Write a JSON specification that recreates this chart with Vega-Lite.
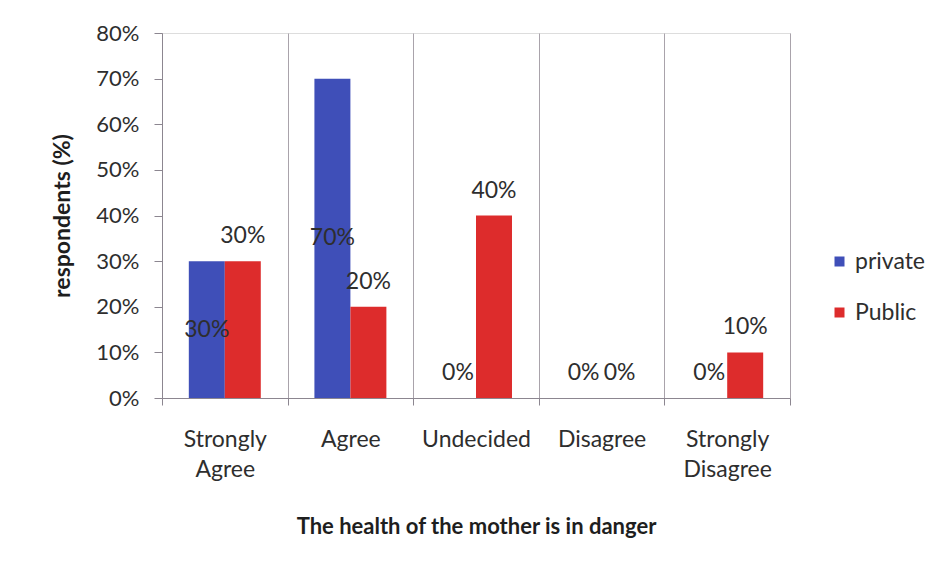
{
  "$schema": "https://vega.github.io/schema/vega-lite/v6.json",
  "width": 628,
  "height": 365,
  "autosize": {"type": "none"},
  "padding": {"left": 162, "top": 33, "right": 155, "bottom": 170},
  "background": "white",
  "data": {
    "values": [
      {"category": "Strongly Agree", "group": "private", "value": 0.3},
      {"category": "Strongly Agree", "group": "Public", "value": 0.3},
      {"category": "Agree", "group": "private", "value": 0.7},
      {"category": "Agree", "group": "Public", "value": 0.2},
      {"category": "Undecided", "group": "private", "value": 0.0},
      {"category": "Undecided", "group": "Public", "value": 0.4},
      {"category": "Disagree", "group": "private", "value": 0.0},
      {"category": "Disagree", "group": "Public", "value": 0.0},
      {"category": "Strongly Disagree", "group": "private", "value": 0.0},
      {"category": "Strongly Disagree", "group": "Public", "value": 0.1}
    ]
  },
  "encoding": {
    "x": {
      "field": "category",
      "type": "nominal",
      "sort": ["Strongly Agree", "Agree", "Undecided", "Disagree", "Strongly Disagree"],
      "scale": {"paddingInner": 0, "paddingOuter": 0},
      "axis": {
        "title": "The health of the mother is in danger",
        "labelAngle": 0,
        "labelExpr": "split(datum.label, ' ')",
        "labelLineHeight": 30,
        "labelFontSize": 23,
        "labelPadding": 23,
        "labelColor": "#2e2e2e",
        "labelFont": "Lato",
        "tickBand": "extent",
        "grid": true,
        "gridColor": "#a9a3ab",
        "domainColor": "#8c8690",
        "tickColor": "#8c8690",
        "tickSize": 7,
        "titleFont": "Lato",
        "titleFontSize": 22,
        "titleFontWeight": "bold",
        "titleColor": "#1e1e1e",
        "titlePadding": 35
      }
    },
    "xOffset": {
      "field": "group",
      "type": "nominal",
      "sort": ["private", "Public"],
      "scale": {"paddingInner": 0, "paddingOuter": 0.745}
    }
  },
  "layer": [
    {
      "mark": {"type": "bar"},
      "encoding": {
        "y": {
          "field": "value",
          "type": "quantitative",
          "scale": {"domain": [0, 0.8]},
          "axis": {
            "title": "respondents (%)",
            "values": [0, 0.1, 0.2, 0.3, 0.4, 0.5, 0.6, 0.7, 0.8],
            "format": ".0%",
            "grid": false,
            "labelFont": "Lato",
            "labelFontSize": 22,
            "labelColor": "#2e2e2e",
            "labelPadding": 15,
            "tickSize": 8,
            "tickColor": "#8c8690",
            "domainColor": "#8c8690",
            "titleFont": "Lato",
            "titleFontSize": 23,
            "titleFontWeight": "bold",
            "titleColor": "#1e1e1e",
            "titlePadding": 21
          }
        },
        "color": {
          "field": "group",
          "type": "nominal",
          "sort": ["private", "Public"],
          "scale": {"domain": ["private", "Public"], "range": ["#3f4fb8", "#dd2c2c"]},
          "legend": {
            "title": null,
            "orient": "none",
            "legendX": 666,
            "legendY": 217,
            "symbolType": "square",
            "symbolSize": 100,
            "symbolStrokeWidth": 0,
            "labelFont": "Lato",
            "labelFontSize": 23,
            "labelColor": "#2e2e2e",
            "labelOffset": 4,
            "rowPadding": 27,
            "padding": 0
          }
        }
      }
    },
    {
      "transform": [{"filter": "datum.group === 'private' && datum.value > 0"}],
      "mark": {"type": "text", "baseline": "middle", "font": "Lato", "fontSize": 23, "color": "#2e2e2e"},
      "encoding": {
        "y": {"field": "value", "type": "quantitative", "stack": "zero", "bandPosition": 0.5},
        "text": {"field": "value", "type": "quantitative", "format": ".0%"}
      }
    },
    {
      "transform": [{"filter": "datum.group === 'Public' || datum.value === 0"}],
      "mark": {"type": "text", "baseline": "alphabetic", "dy": -18, "font": "Lato", "fontSize": 23, "color": "#2e2e2e"},
      "encoding": {
        "y": {"field": "value", "type": "quantitative"},
        "text": {"field": "value", "type": "quantitative", "format": ".0%"}
      }
    }
  ]
}
